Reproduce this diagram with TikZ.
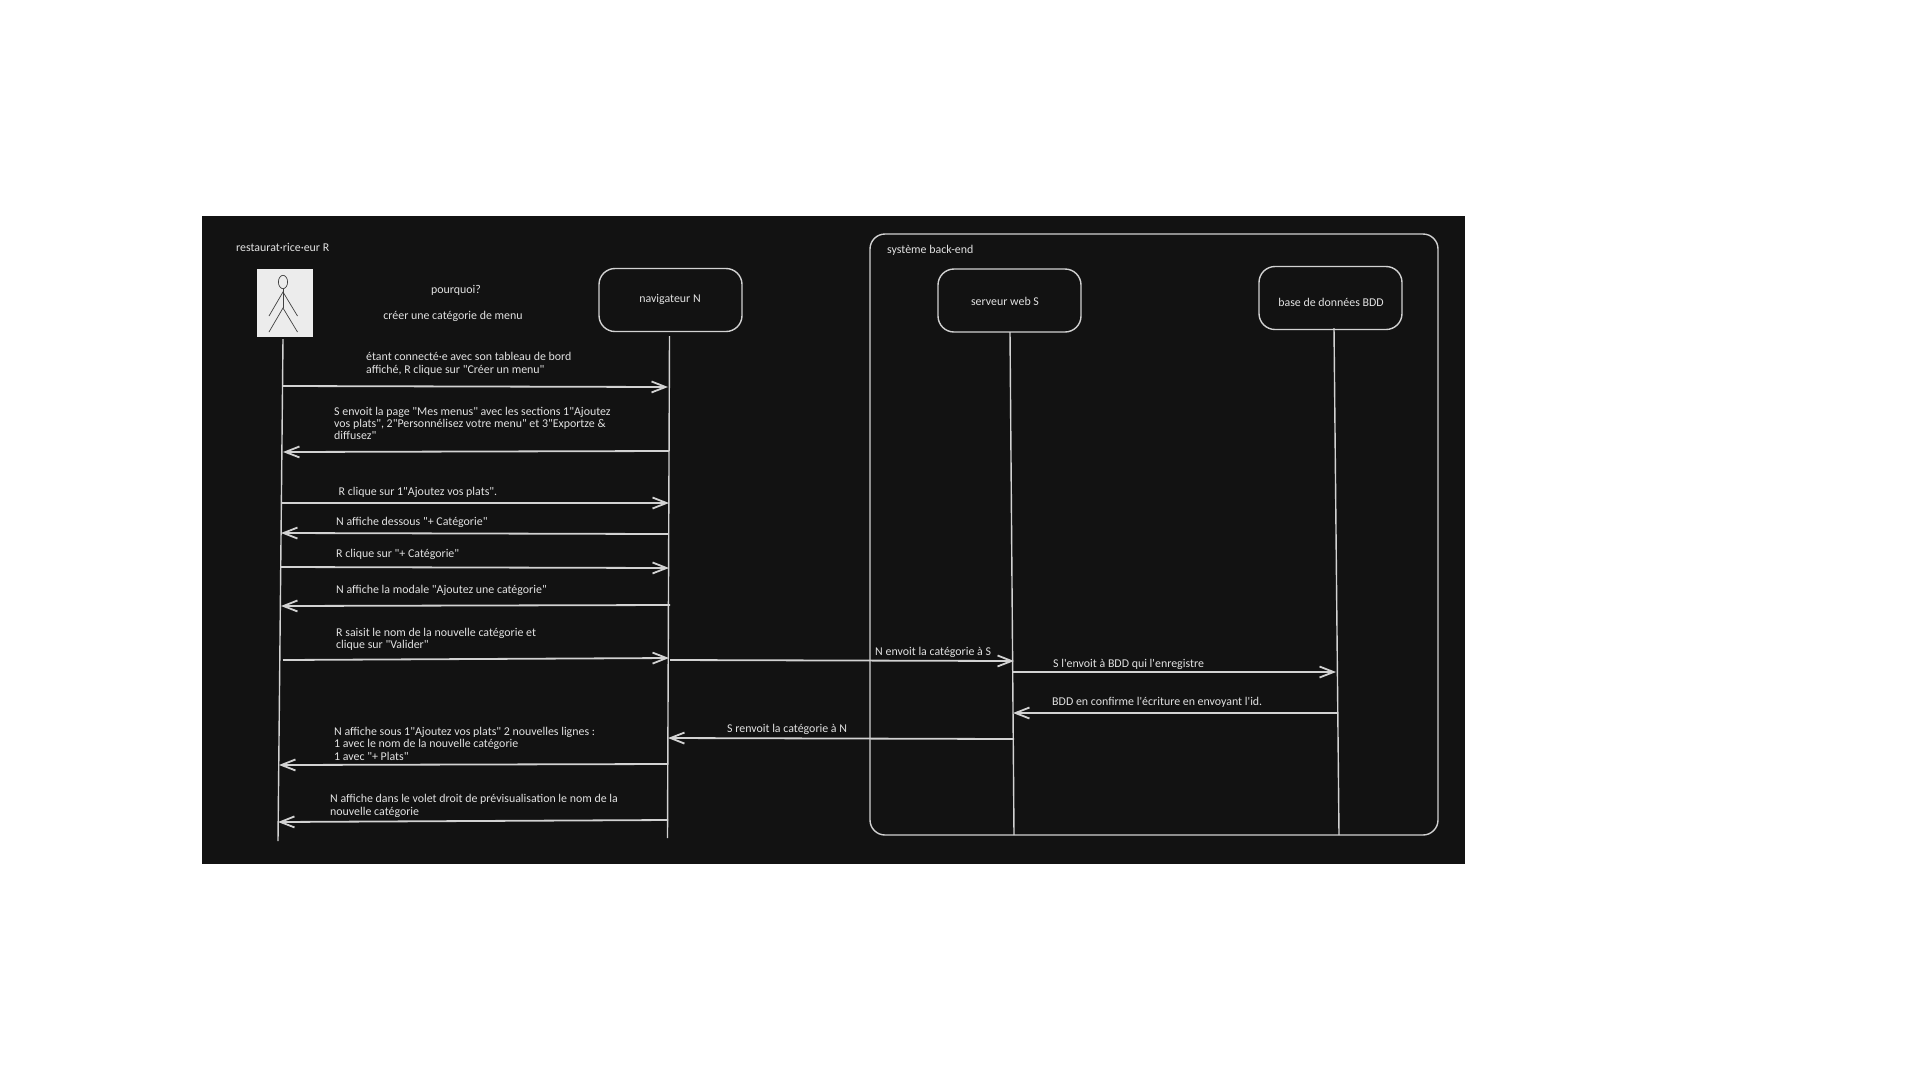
\documentclass[tikz,border=0pt]{standalone}
\usepackage{fontspec}
\setmainfont{Carlito}[Ligatures=TeXOff]
\usetikzlibrary{arrows.meta}
\definecolor{panel}{HTML}{121212}
\definecolor{ink}{HTML}{D2D2D2}
\definecolor{script}{HTML}{E2E2E2}
\definecolor{paper}{HTML}{ECECEC}

\begin{document}
\begin{tikzpicture}
	[
	x=1pt,y=-1pt,
	every node/.style={font=\fontsize{11.9}{12.4}\selectfont,text=script,inner sep=0pt},
	lifebox/.style={rectangle,draw=ink,line width=1.4pt,rounded corners=16pt,minimum width=143pt,minimum height=63pt},
	life/.style={draw=ink,line width=1.4pt},
	msg/.style={draw=ink,line width=1.8pt,-{Straight Barb[length=14pt,width=11pt]}},
	msgtext/.style={anchor=west,align=left},
	stick/.style={draw=black!75,line width=0.7pt},
	]
	\useasboundingbox (0,0) rectangle (1920,1080);
	\fill[white] (0,0) rectangle (1920,1080);
	\fill[panel] (202,216) rectangle (1465,864);

	% back-end frame
	\draw[life,rounded corners=15pt] (870,234) rectangle (1438,835);
	\node[msgtext] (backend) at (887,250) {système back-end};

	% actors
	\node[msgtext] (resto) at (236,247) {restaurat·rice·eur R};
	\node[rectangle,fill=paper,minimum width=56pt,minimum height=68pt] (actor) at (285,303) {};
	\draw[stick] (283,282) ellipse (4.6 and 6.7);
	\draw[stick] (283,289) -- (283,308);
	\draw[stick] (269,316) -- (283,292) -- (297.5,316);
	\draw[stick] (269,332) -- (283,308) -- (297.5,332);
	\node[lifebox] (nav) at (670.5,300) {};
	\node (navtext) at (670,299) {navigateur N};
	\node[lifebox] (srv) at (1009.5,300.5) {};
	\node (srvtext) at (1005,301) {serveur web S};
	\node[lifebox] (bdd) at (1330.5,298) {};
	\node (bddtext) at (1331,302) {base de données BDD};

	\node (why) at (456,290) {pourquoi?};
	\node (goal) at (453,316) {créer une catégorie de menu};

	% lifelines
	\coordinate (Rtop) at (283,339);
	\coordinate (Rend) at (278,841);
	\coordinate (Ntop) at (669.5,336);
	\coordinate (Nend) at (667.5,838);
	\coordinate (Stop) at (1010,332);
	\coordinate (Send) at (1014,835);
	\coordinate (Btop) at (1334,328);
	\coordinate (Bend) at (1339,835);
	\draw[life] (Rtop) -- (Rend);
	\draw[life] (Ntop) -- (Nend);
	\draw[life] (Stop) -- (Send);
	\draw[life] (Btop) -- (Bend);

	% messages
	\coordinate (ra) at (283,386);
	\coordinate (na) at (668,387);
	\draw[msg] (ra) -- (na);
	\node[msgtext] (ta) at (366,364) {étant connecté·e avec son tableau de bord\\affiché, R clique sur "Créer un menu"};

	\coordinate (nb) at (669,451);
	\coordinate (rb) at (283,452);
	\draw[msg] (nb) -- (rb);
	\node[msgtext] (tb) at (334,423.5) {S envoit la page "Mes menus" avec les sections 1"Ajoutez\\vos plats", 2"Personnélisez votre menu" et 3"Exportze \&\\diffusez"};

	\coordinate (rc) at (282,503);
	\coordinate (nc) at (669,503);
	\draw[msg] (rc) -- (nc);
	\node[msgtext] (tc) at (338.5,492) {R clique sur 1"Ajoutez vos plats".};

	\coordinate (nd) at (668,534);
	\coordinate (rd) at (281,533);
	\draw[msg] (nd) -- (rd);
	\node[msgtext] (td) at (336,522) {N affiche dessous "+ Catégorie"};

	\coordinate (re) at (281,567);
	\coordinate (ne) at (669,568);
	\draw[msg] (re) -- (ne);
	\node[msgtext] (te) at (336,554) {R clique sur "+ Catégorie"};

	\coordinate (nf) at (670,605);
	\coordinate (rf) at (281,606);
	\draw[msg] (nf) -- (rf);
	\node[msgtext] (tf) at (336,590) {N affiche la modale "Ajoutez une catégorie"};

	\coordinate (rg) at (283,660);
	\coordinate (ng) at (669,658);
	\draw[msg] (rg) -- (ng);
	\node[msgtext] (tg) at (336,639.5) {R saisit le nom de la nouvelle catégorie et\\clique sur "Valider"};

	\coordinate (nh) at (670,660);
	\coordinate (sh) at (1014,661);
	\draw[msg] (nh) -- (sh);
	\node[msgtext] (th) at (875,652) {N envoit la catégorie à S};

	\coordinate (si) at (1013,672);
	\coordinate (bi) at (1336,672);
	\draw[msg] (si) -- (bi);
	\node[msgtext] (ti) at (1053,664) {S l'envoit à BDD qui l'enregistre};

	\coordinate (bj) at (1337,713);
	\coordinate (sj) at (1013,713);
	\draw[msg] (bj) -- (sj);
	\node[msgtext] (tj) at (1052,702) {BDD en confirme l'écriture en envoyant l'id.};

	\coordinate (sk) at (1014,739);
	\coordinate (nk) at (668,738);
	\draw[msg] (sk) -- (nk);
	\node[msgtext] (tk) at (727,729) {S renvoit la catégorie à N};

	\coordinate (nl) at (668,764);
	\coordinate (rl) at (279,765);
	\draw[msg] (nl) -- (rl);
	\node[msgtext] (tl) at (334,743.5) {N affiche sous 1"Ajoutez vos plats" 2 nouvelles lignes :\\1 avec le nom de la nouvelle catégorie\\1 avec "+ Plats"};

	\coordinate (nm) at (668,820);
	\coordinate (rm) at (278,822);
	\draw[msg] (nm) -- (rm);
	\node[msgtext] (tm) at (330,806) {N affiche dans le volet droit de prévisualisation le nom de la\\nouvelle catégorie};
\end{tikzpicture}
\end{document}
